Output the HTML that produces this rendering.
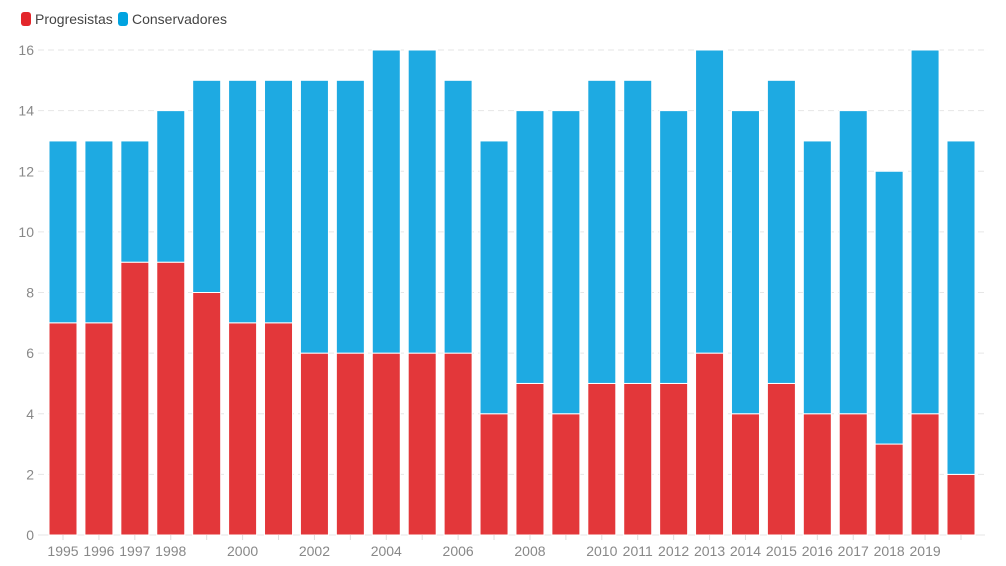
<!DOCTYPE html>
<html><head><meta charset="utf-8"><style>
body{margin:0;background:#fff;font-family:"Liberation Sans",sans-serif}
#wrap{position:relative;width:1006px;height:566px}
.leg{position:absolute;top:11px;font-size:14px;color:#444;display:flex;align-items:center}
.sw{width:10px;height:14px;border-radius:3px;margin-right:4px}
</style></head><body>
<div id="wrap">
<div class="leg" style="left:21px"><div class="sw" style="background:#e3262b"></div>Progresistas</div>
<div class="leg" style="left:118px"><div class="sw" style="background:#00a3e0"></div>Conservadores</div>
<svg id="svg" width="1006" height="566" style="position:absolute;left:0;top:0"></svg>
</div>
<script>
const years=[1995,1996,1997,1998,1999,2000,2001,2002,2003,2004,2005,2006,2007,2008,2009,2010,2011,2012,2013,2014,2015,2016,2017,2018,2019,2020];
const labeledYears=[1995,1996,1997,1998,2000,2002,2004,2006,2008,2010,2011,2012,2013,2014,2015,2016,2017,2018,2019];
const progresistas=[7,7,9,9,8,7,7,6,6,6,6,6,4,5,4,5,5,5,6,4,5,4,4,3,4,2];
const conservadores=[6,6,4,5,7,8,8,9,9,10,10,9,9,9,10,10,10,9,10,10,10,9,10,9,12,11];
const yTicks=[0,2,4,6,8,10,12,14,16];
const NS='http://www.w3.org/2000/svg',svg=document.getElementById('svg');
const y0=535,y1=50,yMax=16;
const y=v=>y0-(y0-y1)*v/yMax;
const x=i=>63+i*35.92;
const bw=28;
function mk(t,a){const e=document.createElementNS(NS,t);for(const k in a)e.setAttribute(k,a[k]);svg.appendChild(e);return e;}
yTicks.forEach(t=>{
 const g=mk('line',{x1:38,x2:985,y1:y(t),y2:y(t),stroke:'#e6e6e6','stroke-dasharray':t?'6,4':'',});
 
 
 const l=mk('text',{x:34,y:y(t)+5,'text-anchor':'end','font-size':14,fill:'#888','font-family':'Liberation Sans,sans-serif'});
 l.textContent=t;
 
 
});
years.forEach((yr,i)=>{
 const p=progresistas[i],c=conservadores[i];
 const r1=mk('rect',{x:x(i)-bw/2,y:y(p),width:bw,height:y(0)-y(p),fill:'#e3373a',stroke:'#fff','stroke-width':1});
 
 
 const r2=mk('rect',{x:x(i)-bw/2,y:y(p+c),width:bw,height:y(p)-y(p+c),fill:'#1eaae2',stroke:'#fff','stroke-width':1});
 
 
 const tk=mk('line',{x1:x(i),x2:x(i),y1:y0,y2:y0+5,stroke:'#ddd'});
 
 
 if(labeledYears.includes(yr)){
  const l=mk('text',{x:x(i),y:556,'text-anchor':'middle','font-size':14,fill:'#888','font-family':'Liberation Sans,sans-serif'});
  l.textContent=yr;
  
  
 }
});
</script>
</body></html>
